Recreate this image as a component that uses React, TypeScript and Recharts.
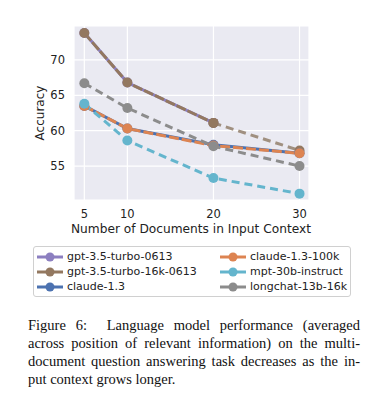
import { LineChart, Line, XAxis, YAxis, CartesianGrid } from 'recharts'

const docs = [5, 10, 20, 30]
const gpt35 = [73.8, 66.8, 61.1, null]
const gpt35_16k = [73.8, 66.8, 61.1, 57.2]
const claude13 = [63.5, 60.3, 58.0, 56.8]
const claude100k = [63.5, 60.3, 57.9, 56.8]
const mpt = [63.8, 58.6, 53.3, 51.1]
const longchat = [66.7, 63.2, 57.8, 55.0]

const xTicks = [5, 10, 20, 30]
const yTicks = [55, 60, 65, 70]

const C = {
  purple: '#8c7fc0',
  brown: '#937860',
  blue: '#4c72b0',
  orange: '#dd8452',
  cyan: '#64b5cd',
  gray: '#8c8c8c',
}

const legendItems = [
  { name: 'gpt-3.5-turbo-0613', color: C.purple },
  { name: 'claude-1.3-100k', color: C.orange },
  { name: 'gpt-3.5-turbo-16k-0613', color: C.brown },
  { name: 'mpt-30b-instruct', color: C.cyan },
  { name: 'claude-1.3', color: C.blue },
  { name: 'longchat-13b-16k', color: C.gray },
]

// 16k model: solid up to 20 docs, dashed tail to 30
const data = docs.map((d, i) => ({
  docs: d,
  gpt35: gpt35[i],
  gpt16k: i < 3 ? gpt35_16k[i] : null,
  gpt16kTail: i >= 2 ? gpt35_16k[i] : null,
  claude13: claude13[i],
  claude100k: claude100k[i],
  mpt: mpt[i],
  longchat: longchat[i],
}))

const font = 'DejaVu Sans, sans-serif'

const dot = (color: string) => ({ r: 5, fill: color, stroke: color, strokeWidth: 0 })

export default function App() {
  return (
    <div style={{ position: 'absolute', left: 0, top: 0, width: 369, height: 401, background: '#fff', fontFamily: font }}>
      <LineChart width={369} height={240} data={data} margin={{ top: 26, right: 60, bottom: 10, left: 44 }}>
        <CartesianGrid fill="#eaeaf2" stroke="#fff" strokeWidth={1.2} />
        <XAxis
          dataKey="docs"
          type="number"
          domain={[3.8, 31.1]}
          ticks={xTicks}
          axisLine={false}
          tickLine={false}
          tickSize={8}
          height={30}
          tick={{ fontSize: 11.5, fill: '#222', fontFamily: font }}
          label={{
            content: () => (
              <text x={191} y={233} textAnchor="middle" fontSize={12.2} fill="#222" fontFamily={font}>
                Number of Documents in Input Context
              </text>
            ),
          }}
        />
        <YAxis
          type="number"
          domain={[50.2, 74.8]}
          ticks={yTicks}
          axisLine={false}
          tickLine={false}
          tickSize={7}
          width={30}
          tick={{ fontSize: 11.5, fill: '#222', fontFamily: font }}
          label={{
            content: () => (
              <text x={40} y={113} transform="rotate(-90 40 113)" textAnchor="middle" dominantBaseline="central" fontSize={12} fill="#222" fontFamily={font}>
                Accuracy
              </text>
            ),
          }}
        />
        <Line dataKey="gpt35" stroke={C.purple} strokeWidth={3} dot={dot(C.purple)} isAnimationActive={false} />
        <Line dataKey="gpt16k" stroke={C.brown} strokeWidth={3} strokeDasharray="10 2" dot={dot(C.brown)} isAnimationActive={false} />
        <Line dataKey="gpt16kTail" stroke="#a09080" strokeWidth={3} strokeDasharray="8 5" dot={dot(C.brown)} isAnimationActive={false} />
        <Line dataKey="claude13" stroke={C.blue} strokeWidth={3} dot={dot(C.blue)} isAnimationActive={false} />
        <Line dataKey="claude100k" stroke={C.orange} strokeWidth={3} strokeDasharray="10 3" dot={dot(C.orange)} isAnimationActive={false} />
        <Line dataKey="mpt" stroke={C.cyan} strokeWidth={3} strokeDasharray="8 5" dot={dot(C.cyan)} isAnimationActive={false} />
        <Line dataKey="longchat" stroke={C.gray} strokeWidth={3} strokeDasharray="8 5" dot={dot(C.gray)} isAnimationActive={false} />
      </LineChart>

      <div
        style={{
          position: 'absolute', left: 33, top: 246, width: 318, height: 51,
          border: '1px solid #d0d0d0', borderRadius: 3, boxSizing: 'border-box',
          display: 'grid', gridTemplateColumns: '183px 133px', gridAutoRows: 15,
          padding: '2px 0 0 2px', fontSize: 11, color: '#222',
        }}
      >
        {legendItems.map((it) => (
          <div key={it.name} style={{ display: 'flex', alignItems: 'center', height: 15 }}>
            <svg width={28} height={10} style={{ marginRight: 3 }}>
              <line x1={1} y1={5} x2={27} y2={5} stroke={it.color} strokeWidth={3} />
              <circle cx={14} cy={5} r={4.5} fill={it.color} />
            </svg>
            <span style={{ whiteSpace: 'nowrap' }}>{it.name}</span>
          </div>
        ))}
      </div>

      <div
        style={{
          position: 'absolute', left: 28, top: 316, width: 332,
          fontFamily: 'Liberation Serif, Times New Roman, serif', fontSize: 14.5, lineHeight: '18px',
          textAlign: 'justify', color: '#111',
        }}
      >
        Figure 6:&nbsp; Language model performance (averaged across position of relevant information) on the multi-document question answering task decreases as the in-put context grows longer.
      </div>
    </div>
  )
}
